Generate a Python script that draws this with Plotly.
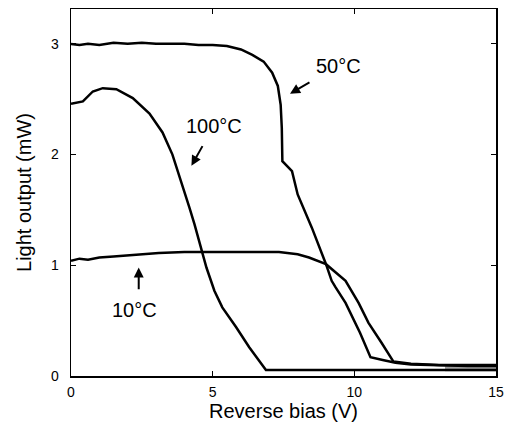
import plotly.graph_objects as go

# 50 °C curve
x50 = [0, 0.3, 0.6, 1.0, 1.5, 2.0, 2.5, 3.0, 3.5, 4.0, 4.5, 5.0, 5.5, 6.0, 6.4, 6.8, 7.1, 7.3, 7.4, 7.44, 7.46,
       7.8, 8.0, 8.2, 8.5, 9.0, 9.2, 9.34, 9.69, 10.2, 10.57, 11.0, 11.45, 12, 13, 14, 15]
y50 = [3.0, 2.99, 3.0, 2.99, 3.01, 3.0, 3.01, 3.0, 3.0, 3.0, 2.99, 2.99, 2.98, 2.95, 2.90, 2.84, 2.74, 2.62, 2.45, 2.24, 1.94,
       1.85, 1.64, 1.52, 1.34, 1.01, 0.86, 0.80, 0.66, 0.39, 0.17, 0.145, 0.12, 0.105, 0.095, 0.09, 0.09]

# 100 °C curve
x100 = [0, 0.42, 0.77, 1.12, 1.6, 2.18, 2.77, 3.23, 3.58, 3.93, 4.18, 4.36, 4.64, 4.78, 5.06, 5.34, 5.83, 6.29, 6.88, 7.5, 10, 15]
y100 = [2.46, 2.48, 2.57, 2.60, 2.59, 2.51, 2.37, 2.20, 2.0, 1.73, 1.52, 1.37, 1.10, 0.98, 0.77, 0.62, 0.44, 0.26, 0.054, 0.054, 0.054, 0.054]

# 10 °C curve
x10 = [0, 0.3, 0.6, 1.0, 1.5, 2.0, 2.5, 3.1, 4.0, 5.0, 6.0, 7.0, 7.34, 8.0, 8.4, 9.0, 9.69, 10.15, 10.5, 10.96, 11.38, 12, 13, 14, 15]
y10 = [1.04, 1.06, 1.05, 1.07, 1.08, 1.09, 1.10, 1.11, 1.12, 1.12, 1.12, 1.12, 1.12, 1.10, 1.07, 1.01, 0.86, 0.66, 0.48, 0.30, 0.13, 0.11, 0.10, 0.10, 0.10]

# grey overlap band at the far right
xg = [13.2, 15]
yg = [0.065, 0.065]

x_ticks = [0, 5, 10, 15]
y_ticks = [0, 1, 2, 3]

fig = go.Figure()
fig.add_trace(go.Scatter(x=xg, y=yg, mode="lines", line=dict(color="#a0a0a0", width=5), showlegend=False))
for xs, ys in [(x100, y100), (x10, y10), (x50, y50)]:
    fig.add_trace(go.Scatter(x=xs, y=ys, mode="lines", line=dict(color="black", width=2.5), showlegend=False))

FONT = "Liberation Sans, Arial, sans-serif"

labels = [
    ("50°C", 9.45, 2.80, 8.47, 2.66, 7.73, 2.55),
    ("100°C", 5.06, 2.255, 4.67, 2.09, 4.25, 1.90),
    ("10°C", 2.25, 0.60, 2.39, 0.77, 2.39, 0.98),
]
for txt, tx, ty, ax_, ay_, hx, hy in labels:
    fig.add_annotation(x=tx, y=ty, text=txt, showarrow=False, font=dict(family=FONT, size=20, color="black"))
    fig.add_annotation(x=hx, y=hy, ax=ax_, ay=ay_, axref="x", ayref="y", text="", showarrow=True,
                       arrowhead=2, arrowsize=1, arrowwidth=2, arrowcolor="black")

axis_common = dict(showgrid=False, zeroline=False, showline=True, linecolor="black", linewidth=1.5,
                   mirror="ticks", ticks="inside", ticklen=5, tickcolor="black",
                   tickfont=dict(family=FONT, size=14, color="black"))

fig.update_xaxes(range=[0, 15], tickvals=x_ticks, ticklabelstandoff=3,
                 title=dict(text="Reverse bias (V)", font=dict(family=FONT, size=20, color="black"), standoff=4),
                 **axis_common)
fig.update_yaxes(range=[0, 3.315], tickvals=y_ticks, ticklabelstandoff=8,
                 title=dict(text="Light output (mW)", font=dict(family=FONT, size=20, color="black"), standoff=14),
                 **axis_common)

fig.update_layout(width=511, height=432, margin=dict(l=71, r=13, t=7, b=56),
                  plot_bgcolor="white", paper_bgcolor="white", hovermode=False)
fig.write_html("out.html", config={"displayModeBar": False, "staticPlot": True},
               post_script="document.body.style.margin='0';")
